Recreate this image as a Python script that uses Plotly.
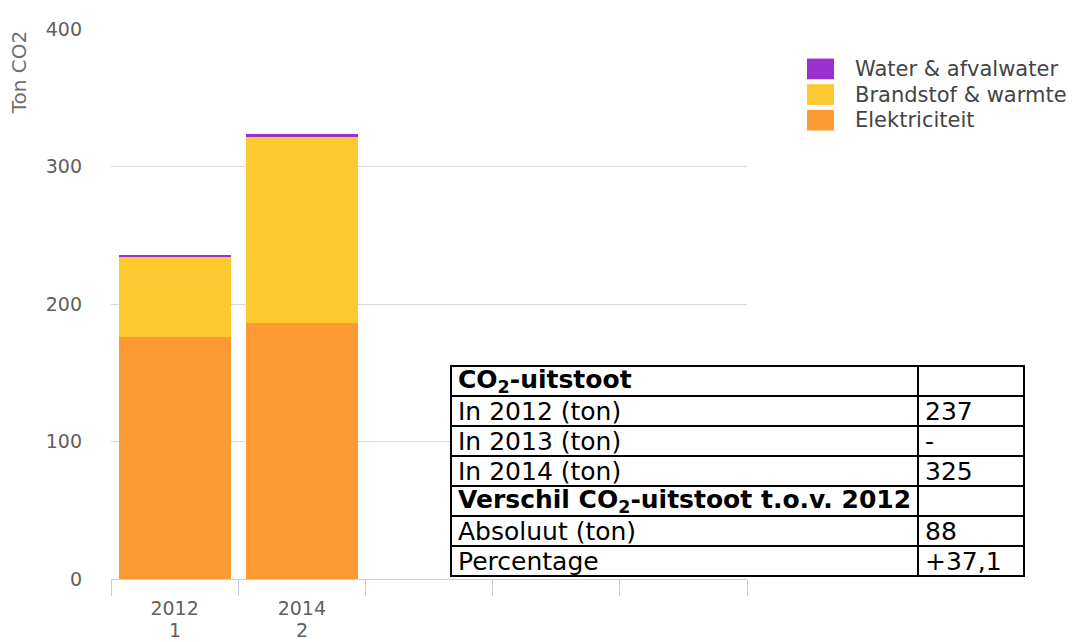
import plotly.graph_objects as go

# ---------------- data ----------------
years = ["2012", "2014"]
periods = ["1", "2"]
n_slots = 5  # category slots on the x axis (only the first two hold data)
series_names = ["Elektriciteit", "Brandstof & warmte", "Water & afvalwater"]
elektriciteit = [176, 186]
brandstof = [58.5, 135.5]
water = [1.5, 2]
series_colors = ["#FD9A33", "#FEC830", "#9B30CF"]
y_ticks = [0, 100, 200, 300, 400]
y_title = "Ton CO2"

table_labels = [
    "<b>CO<sub>2</sub>-uitstoot</b>",
    "In 2012 (ton)",
    "In 2013 (ton)",
    "In 2014 (ton)",
    "<b>Verschil CO<sub>2</sub>-uitstoot t.o.v. 2012</b>",
    "Absoluut (ton)",
    "Percentage",
]
table_values = ["", "237", "-", "325", "", "88", "+37,1"]

# ---------------- layout helpers (screen pixel -> paper) ----------------
W, H = 1075, 642
OFF = 8  # page body margin
L, R, T, B = 111 - OFF, 10, 21 - OFF, H - (579 - OFF)
PW, PH = W - L - R, H - T - B


def px(x):
    return (x - OFF - L) / PW


def py(y):
    return (H - B - (y - OFF)) / PH


FONT = "DejaVu Sans"

x_pos = list(range(len(years)))

fig = go.Figure()
for name, vals, col in zip(series_names, [elektriciteit, brandstof, water], series_colors):
    fig.add_trace(go.Bar(
        x=x_pos, y=vals, name=name, width=0.88,
        marker=dict(color=col, line=dict(width=0)),
        showlegend=False, hovertemplate=name + ": %{y}<extra></extra>",
    ))

shapes = []
annotations = []

# legend (drawn manually to match symbol size)
leg_x0, leg_x1, leg_top, leg_h, leg_pitch = 807, 834, 51, 21, 26
for i, (name, col) in enumerate(reversed(list(zip(series_names, series_colors)))):
    top = leg_top + i * leg_pitch
    shapes.append(dict(type="rect", xref="paper", yref="paper",
                       x0=px(leg_x0), x1=px(leg_x1), y0=py(top + leg_h), y1=py(top),
                       fillcolor=col, line=dict(width=0), layer="above"))
    annotations.append(dict(xref="paper", yref="paper", x=px(853), y=py(top + leg_h / 2),
                            xanchor="left", yanchor="middle", showarrow=False, text=name,
                            font=dict(family=FONT, size=21, color="#444444")))

# y axis title
annotations.append(dict(xref="paper", yref="paper", x=px(19), y=py(65), textangle=-90,
                        xanchor="center", yanchor="middle", showarrow=False, text=y_title,
                        font=dict(family=FONT, size=20, color="#707070")))

# second line of the x labels
for xi, p in zip(x_pos, periods):
    annotations.append(dict(xref="x", yref="paper", x=xi, y=py(631),
                            xanchor="center", yanchor="middle", showarrow=False, text=p,
                            font=dict(family=FONT, size=19, color="#606060")))

# table
tx0, tx1, tdiv, ttop, tbot = 451, 1024, 918, 363, 576
n_rows = len(table_labels)
row_h = (tbot - ttop) / n_rows
shapes.append(dict(type="rect", xref="paper", yref="paper",
                   x0=px(tx0), x1=px(tx1), y0=py(tbot), y1=py(ttop),
                   fillcolor="white", line=dict(color="black", width=2), layer="above"))
shapes.append(dict(type="line", xref="paper", yref="paper",
                   x0=px(tdiv), x1=px(tdiv), y0=py(tbot), y1=py(ttop),
                   line=dict(color="black", width=2), layer="above"))
for i in range(1, n_rows):
    yy = ttop + i * row_h
    shapes.append(dict(type="line", xref="paper", yref="paper",
                       x0=px(tx0), x1=px(tx1), y0=py(yy), y1=py(yy),
                       line=dict(color="black", width=2), layer="above"))
for i, (lab, val) in enumerate(zip(table_labels, table_values)):
    yc = ttop + (i + 0.5) * row_h
    annotations.append(dict(xref="paper", yref="paper", x=px(tx0 + 5), y=py(yc),
                            xanchor="left", yanchor="middle", showarrow=False, text=lab,
                            font=dict(family=FONT, size=25, color="black")))
    if val:
        annotations.append(dict(xref="paper", yref="paper", x=px(tdiv + 5), y=py(yc),
                                xanchor="left", yanchor="middle", showarrow=False, text=val,
                                font=dict(family=FONT, size=25, color="black")))

boundaries = [i - 0.5 for i in range(n_slots + 1)]

fig.update_layout(
    width=W, height=H,
    margin=dict(l=L, r=R, t=T, b=B, pad=0),
    barmode="stack",
    plot_bgcolor="white", paper_bgcolor="white",
    showlegend=False,
    shapes=shapes, annotations=annotations,
    xaxis=dict(
        domain=[0, px(747)], type="linear",
        range=[-0.5, n_slots - 0.5],
        tickmode="array", tickvals=x_pos, ticktext=years,
        ticks="", ticklabelstandoff=12,
        minor=dict(tickmode="array", tickvals=boundaries, ticks="outside", ticklen=16,
                   tickcolor="#C0D0E0", tickwidth=1, showgrid=False),
        showline=True, linecolor="#C0D0E0", linewidth=1,
        showgrid=False, zeroline=False,
        tickfont=dict(family=FONT, size=19, color="#606060"),
        fixedrange=True,
    ),
    yaxis=dict(
        range=[0, 400], tickmode="array", tickvals=y_ticks,
        showgrid=True, gridcolor="#D8D8D8", gridwidth=1,
        zeroline=False, showline=False, ticks="",
        ticklabelstandoff=28,
        tickfont=dict(family=FONT, size=19, color="#606060"),
        fixedrange=True,
    ),
)

fig.write_html("out.html")
